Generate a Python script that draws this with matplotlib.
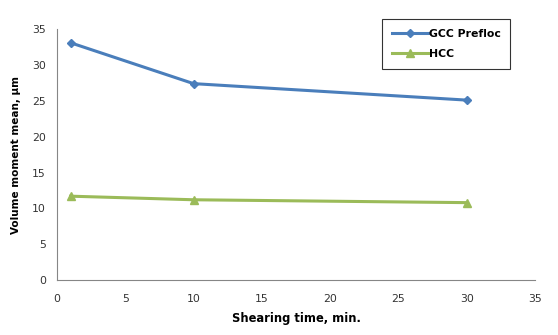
import matplotlib
matplotlib.use("Agg")
import matplotlib.pyplot as plt

# data
time_min = [1, 10, 30]
gcc_prefloc = [33.1, 27.4, 25.1]
hcc = [11.7, 11.2, 10.8]

fig = plt.figure(figsize=(5.58, 3.35), dpi=100)
ax = fig.add_axes([0.102, 0.164, 0.857, 0.749])

ax.plot(time_min, gcc_prefloc, color="#4A7EBB", lw=2.2, marker="D", ms=4.5, label="GCC Prefloc")
ax.plot(time_min, hcc, color="#9BBB59", lw=2.2, marker="^", ms=6, label="HCC")

ax.set_xlim(0, 35)
ax.set_ylim(0, 35)
ax.set_xticks(range(0, 36, 5))
ax.set_yticks(range(0, 36, 5))
ax.tick_params(length=0, labelsize=7.8, pad=10, colors="#333333")
ax.tick_params(axis="y", pad=8)

for s in ["top", "right"]:
    ax.spines[s].set_visible(False)
for s in ["left", "bottom"]:
    ax.spines[s].set_color("#868686")

ax.set_xlabel("Shearing time, min.", fontsize=8.3, fontweight="bold", labelpad=6)
ax.set_ylabel("Volume moment mean, \u00b5m", fontsize=7.5, fontweight="bold", labelpad=8)

leg = ax.legend(loc="upper left", bbox_to_anchor=(0.68, 1.04),
                frameon=True, fancybox=False, handlelength=3.4, handletextpad=0.0,
                borderpad=0.9, borderaxespad=0, labelspacing=0.95,
                prop={"weight": "bold", "size": 7.8})
leg.get_frame().set_edgecolor("black")
leg.get_frame().set_linewidth(0.8)

fig.savefig("out.png", dpi=100)
